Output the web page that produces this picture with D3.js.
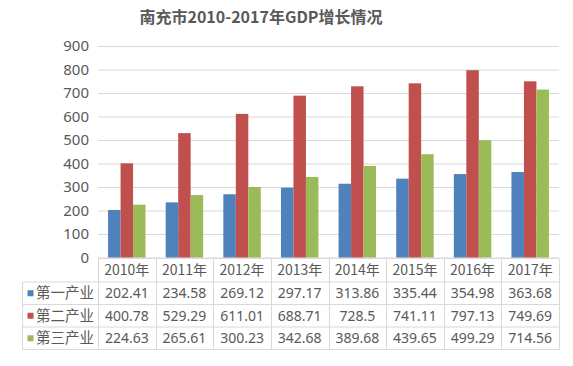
<!DOCTYPE html>
<html><head><meta charset="utf-8">
<script src="https://cdn.jsdelivr.net/npm/d3@7"></script>
<style>body{margin:0;background:#fff}svg{display:block}text{font-family:"Noto Sans CJK SC","Noto Sans",sans-serif;fill:#595959}</style>
</head><body><svg id="c" width="573" height="366"></svg>
<script>
const title = "南充市2010-2017年GDP增长情况";
const years = ["2010年","2011年","2012年","2013年","2014年","2015年","2016年","2017年"];
const seriesNames = ["第一产业","第二产业","第三产业"];
const colors = ["#4F81BD","#C0504D","#9BBB59"];
const primary = [202.41,234.58,269.12,297.17,313.86,335.44,354.98,363.68];
const secondary = [400.78,529.29,611.01,688.71,728.5,741.11,797.13,749.69];
const tertiary = [224.63,265.61,300.23,342.68,389.68,439.65,499.29,714.56];
const yTicks = [0,100,200,300,400,500,600,700,800,900];
const values = [primary, secondary, tertiary];

const svg = d3.select("#c");
const L = 98, R = 559, T = 46, B = 257.5;
const x = d3.scaleBand().domain(years).range([L, R]);
const bw = x.bandwidth();
const x1 = d3.scaleBand().domain(seriesNames).range([bw*0.175, bw*0.825]);
const y = d3.scaleLinear().domain([0,900]).range([B, T]);

svg.append("text").attr("x", 261).attr("y", 23).attr("text-anchor","middle")
  .style("font-size","16px").style("font-weight","bold").text(title);

// grid
const yAxis = d3.axisLeft(y).tickValues(yTicks).tickSize(-(R-L)).tickPadding(9).tickFormat(d3.format("d"));
const ga = svg.append("g").attr("transform", `translate(${L},0)`).call(yAxis);
ga.select(".domain").remove();
ga.selectAll(".tick line").attr("stroke","#D9D9D9");
ga.selectAll(".tick text").style("font-size","15px").attr("fill","#595959").style("font-family",'"Noto Sans","Noto Sans CJK SC",sans-serif');

// bars
seriesNames.forEach((s, si) => {
  svg.append("g").selectAll("rect").data(values[si]).join("rect")
    .attr("x", (d,i) => x(years[i]) + x1(s))
    .attr("width", x1.bandwidth())
    .attr("y", d => y(d))
    .attr("height", d => y(0) - y(d))
    .attr("fill", colors[si]);
});

// data table
const rowTop = [258.5, 282, 304.5, 327, 349.5];
const tl = 22.5;
const lineC = "#D9D9D9";
const tg = svg.append("g");
tg.append("line").attr("x1", L).attr("x2", R).attr("y1", rowTop[0]).attr("y2", rowTop[0]).attr("stroke", lineC);
for (let r = 1; r < rowTop.length; r++) {
  tg.append("line").attr("x1", tl).attr("x2", R).attr("y1", rowTop[r]).attr("y2", rowTop[r]).attr("stroke", lineC);
}
tg.append("line").attr("x1", tl).attr("x2", tl).attr("y1", rowTop[1]).attr("y2", rowTop[4]).attr("stroke", lineC);
years.forEach(yr => {
  const xx = Math.round(x(yr)) + 0.5;
  tg.append("line").attr("x1", xx).attr("x2", xx).attr("y1", rowTop[0]).attr("y2", rowTop[4]).attr("stroke", lineC);
});
tg.append("line").attr("x1", R+0.5).attr("x2", R+0.5).attr("y1", rowTop[0]).attr("y2", rowTop[4]).attr("stroke", lineC);

tg.selectAll("text.h").data(years).join("text").attr("class","h")
  .attr("x", d => x(d) + bw/2).attr("y", (rowTop[0]+rowTop[1])/2).attr("dy","0.36em")
  .attr("text-anchor","middle").style("font-size","14px").text(d => d);

seriesNames.forEach((s, si) => {
  const cy = (rowTop[si+1] + rowTop[si+2]) / 2;
  tg.append("rect").attr("x", 27.5).attr("y", cy - 3).attr("width", 6).attr("height", 6).attr("fill", colors[si]);
  tg.append("text").attr("x", 36).attr("y", cy).attr("dy","0.36em").style("font-size","14.5px").text(s);
  tg.append("g").selectAll("text").data(values[si]).join("text")
    .attr("x", (d,i) => x(years[i]) + bw/2).attr("y", cy).attr("dy","0.36em")
    .attr("text-anchor","middle").style("font-size","14px").style("font-family",'"Noto Sans","Noto Sans CJK SC",sans-serif')
    .text(d => String(d));
});
</script></body></html>
